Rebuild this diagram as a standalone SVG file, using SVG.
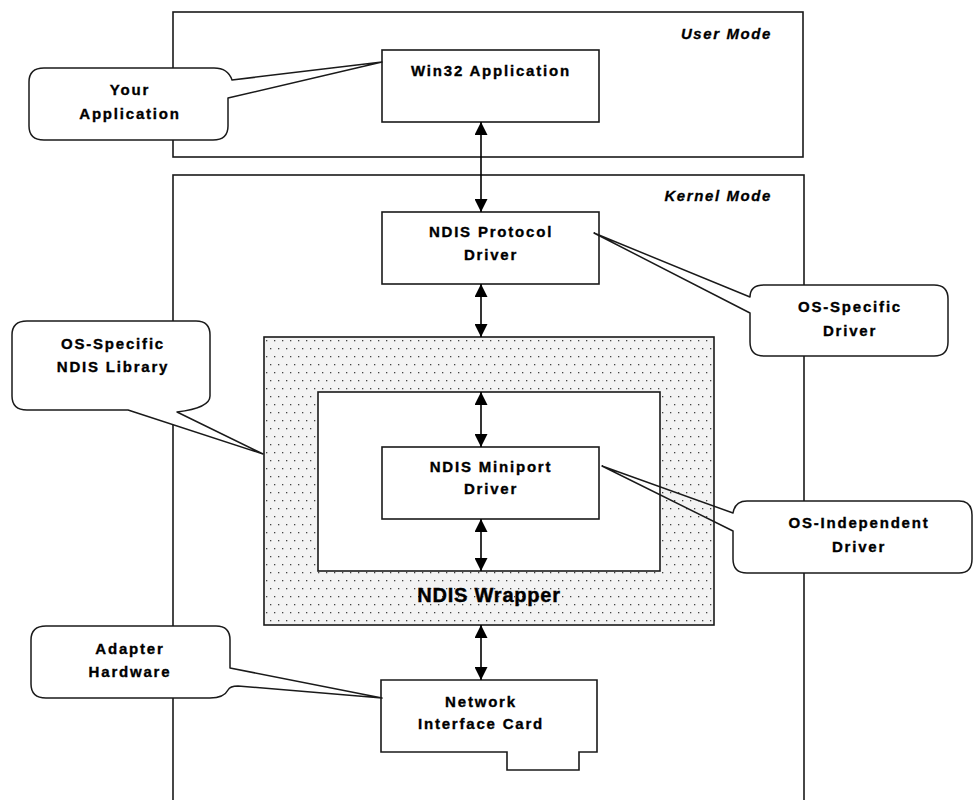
<svg xmlns="http://www.w3.org/2000/svg" width="974" height="800" viewBox="0 0 974 800">
<style>
.box{fill:#fff;stroke:#1a1a1a;stroke-width:1.6}
.frame{fill:none;stroke:#1a1a1a;stroke-width:1.6}
.co{fill:#fff;stroke:#1a1a1a;stroke-width:1.5;stroke-linejoin:round}
.t{font-family:"Liberation Sans",Arial,sans-serif;font-weight:bold;font-size:15px;letter-spacing:1.8px;fill:#000;stroke:#000;stroke-width:0.35;text-anchor:middle}
.mode{font-family:"Liberation Sans",Arial,sans-serif;font-weight:bold;font-style:italic;font-size:15px;letter-spacing:1.6px;fill:#000;stroke:#000;stroke-width:0.3;text-anchor:end}
.big{font-family:"Liberation Sans",Arial,sans-serif;font-weight:bold;font-size:20px;letter-spacing:0.8px;fill:#000;stroke:#000;stroke-width:0.4;text-anchor:middle}
.conn{stroke:#000;stroke-width:1.6;fill:none;marker-start:url(#ah);marker-end:url(#ah)}
</style>
<defs>
<pattern id="dots" x="264" y="337" width="8" height="16" patternUnits="userSpaceOnUse">
<rect width="8" height="16" fill="#f3f3f3"/>
<rect x="2" y="3" width="1.3" height="1.3" fill="#444"/>
<rect x="6" y="11" width="1.3" height="1.3" fill="#444"/>
</pattern>
<marker id="ah" viewBox="0 0 13 13" refX="13" refY="6.5" markerWidth="13" markerHeight="13" markerUnits="userSpaceOnUse" orient="auto-start-reverse">
<path d="M0,0 L13,6.5 L0,13 Z" fill="#000"/>
</marker>
</defs>
<rect width="974" height="800" fill="#fff"/>

<g id="user-mode">
<rect class="frame" x="173" y="12" width="630" height="145"/>
<text class="mode" x="772" y="38.5">User Mode</text>
</g>
<g id="kernel-mode">
<rect class="frame" x="173" y="175" width="631" height="640"/>
<text class="mode" x="772" y="201">Kernel Mode</text>
</g>

<g id="ndis-wrapper">
<rect x="264" y="337" width="450" height="288" fill="url(#dots)" stroke="#1a1a1a" stroke-width="1.6"/>
<rect class="box" x="318" y="392" width="342" height="179"/>
<text class="big" x="489" y="602">NDIS Wrapper</text>
</g>

<g id="win32-app">
<rect class="box" x="382" y="50" width="217" height="72"/>
<text class="t" x="491" y="76">Win32 Application</text>
</g>
<g id="ndis-protocol">
<rect class="box" x="382" y="212" width="217" height="72"/>
<text class="t" x="491" y="236.5">NDIS Protocol</text>
<text class="t" x="491" y="259.5">Driver</text>
</g>
<g id="ndis-miniport">
<rect class="box" x="382" y="447" width="217" height="72"/>
<text class="t" x="491" y="471.5">NDIS Miniport</text>
<text class="t" x="491" y="493.5">Driver</text>
</g>
<g id="nic">
<path class="box" d="M381,680 H597 V752 H579 V770 H507 V752 H381 Z"/>
<text class="t" x="481" y="706.5">Network</text>
<text class="t" x="481" y="728.5">Interface Card</text>
</g>

<g id="connectors">
<line class="conn" x1="481" y1="122" x2="481" y2="212"/>
<line class="conn" x1="481" y1="284" x2="481" y2="337"/>
<line class="conn" x1="481" y1="392" x2="481" y2="447"/>
<line class="conn" x1="481" y1="519" x2="481" y2="571"/>
<line class="conn" x1="481" y1="625" x2="481" y2="680"/>
</g>

<g id="callout-your-app">
<path class="co" d="M44,68 H214 Q228,68 232,80 L382,62 L228,98 V126 Q228,140 213,140 H44 Q29,140 29,126 V82 Q29,68 44,68 Z"/>
<text class="t" x="130" y="94.5">Your</text>
<text class="t" x="130" y="118.5">Application</text>
</g>
<g id="callout-os-specific-driver">
<path class="co" d="M764,285 H934 Q948,285 948,299 V342 Q948,356 934,356 H764 Q750,356 750,342 V313 L594,233 L750,297 Q750,285 764,285 Z"/>
<text class="t" x="850" y="311.5">OS-Specific</text>
<text class="t" x="850" y="335.5">Driver</text>
</g>
<g id="callout-ndis-library">
<path class="co" d="M27,321 H196 Q210,321 210,335 V396 Q210,408 177,412 L263,454 L128,410 H27 Q12,410 12,396 V335 Q12,321 27,321 Z"/>
<text class="t" x="113" y="348.5">OS-Specific</text>
<text class="t" x="113" y="371.5">NDIS Library</text>
</g>
<g id="callout-os-independent">
<path d="M747,501 H959 Q972,501 972,515 V559 Q972,573 959,573 H747 Q733,573 733,559 V515 Q733,501 747,501 Z" fill="#fff"/>
<path class="co" fill="none" style="fill:none" d="M747,501 H959 Q972,501 972,515 V559 Q972,573 959,573 H747 Q733,573 733,559 V531 L602,466 L733,513 Q735,501 747,501 Z"/>
<text class="t" x="859" y="527.5">OS-Independent</text>
<text class="t" x="859" y="551.5">Driver</text>
</g>
<g id="callout-adapter-hardware">
<path class="co" d="M46,626 H216 Q230,626 230,640 V668 L382,698 L238,686 Q230,686 228,690 Q224,698 210,698 H46 Q31,698 31,684 V640 Q31,626 46,626 Z"/>
<text class="t" x="130" y="653.5">Adapter</text>
<text class="t" x="130" y="676.5">Hardware</text>
</g>
</svg>
